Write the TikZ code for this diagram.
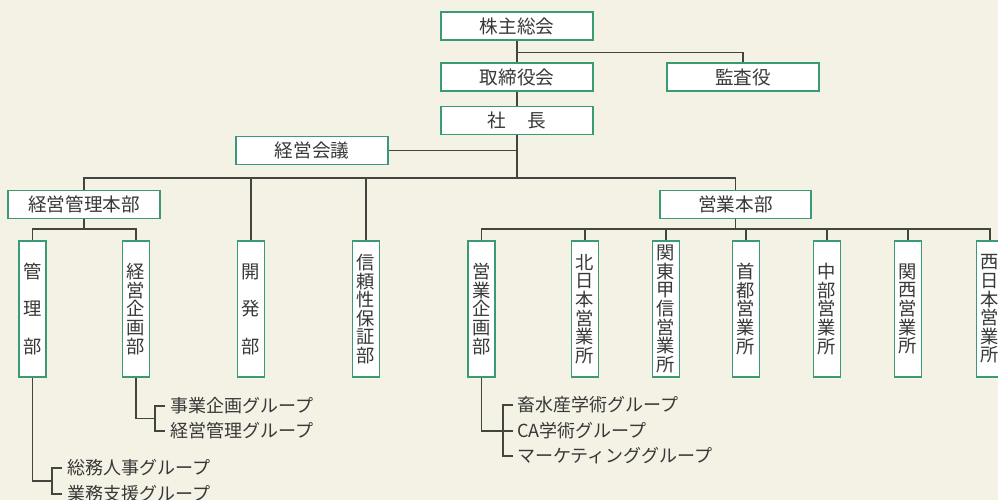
\documentclass[tikz,border=0pt]{standalone}
\usepackage{fontspec}
\setmainfont{Noto Sans CJK JP}
\usetikzlibrary{calc}
\definecolor{bgc}{HTML}{F4F1E5}
\definecolor{boxgreen}{HTML}{3A9A74}
\definecolor{txt}{HTML}{383838}
\definecolor{linec}{HTML}{45453F}
\begin{document}
\begin{tikzpicture}[x=1pt,y=-1pt,
  hbox/.style={draw=boxgreen, line width=1.2pt, fill=white, minimum width=152pt, minimum height=28pt, inner sep=0pt, text=txt, font=\fontsize{18.6}{18.6}\selectfont},
  vbox/.style={draw=boxgreen, line width=1.2pt, fill=white, minimum width=27pt, minimum height=136pt, inner sep=0pt, text=txt, align=center, font=\fontsize{18.3}{18.6}\selectfont},
  vsparse/.style={font=\fontsize{18.3}{37.5}\selectfont},
  conn/.style={draw=linec, line width=1.3pt},
  grp/.style={anchor=west, inner sep=0pt, text=txt, font=\fontsize{18}{18}\selectfont}]
\useasboundingbox (0,0) rectangle (998,500);
\fill[bgc] (0,0) rectangle (998,500);

% top level
\node[hbox] (kabu) at (517,26) {株主総会};
\node[hbox] (tori) at (517,77) {取締役会};
\node[hbox] (kansa) at (743,77) {監査役};
\node[hbox] (shacho) at (517,120.5) {社\hspace{1.15em}長};
\node[hbox] (kaigi) at (312,150.5) {経営会議};
\node[hbox] (kanrihb) at (84,204.5) {経営管理本部};
\node[hbox, minimum width=151pt] (eigyohb) at (735.5,204.5) {営業本部};

% vertical boxes
\node[vbox,vsparse] (kanri) at (32.5,309) {管\\理\\部};
\node[vbox] (kikaku) at (136,309) {経\\営\\企\\画\\部};
\node[vbox,vsparse] (kaihatsu) at (251,309) {開\\発\\部};
\node[vbox] (shinrai) at (366,309) {信\\頼\\性\\保\\証\\部};
\node[vbox] (ekikaku) at (481.5,309) {営\\業\\企\\画\\部};
\node[vbox] (kita) at (585,309) {北\\日\\本\\営\\業\\所};
\node[vbox] (kanto) at (666,309) {関\\東\\甲\\信\\営\\業\\所};
\node[vbox] (shuto) at (746,309) {首\\都\\営\\業\\所};
\node[vbox] (chubu) at (827,309) {中\\部\\営\\業\\所};
\node[vbox] (kansai) at (908,309) {関\\西\\営\\業\\所};
\node[vbox] (nishi) at (990,309) {西\\日\\本\\営\\業\\所};

% groups
\node[grp] (g1) at (67,468) {総務人事グループ};
\node[grp] (g2) at (67,494) {業務支援グループ};
\node[grp] (g3) at (170,406) {事業企画グループ};
\node[grp] (g4) at (170,431) {経営管理グループ};
\node[grp] (g5) at (517,405) {畜水産学術グループ};
\node[grp] (g6) at (517,431) {CA学術グループ};
\node[grp] (g7) at (517,456) {マーケティンググループ};

% connectors top
\draw[conn] (kabu.south) -- (tori.north);
\draw[conn] (kabu.south) -- ++(0,12) -| (kansa.north);
\draw[conn] (tori.south) -- (shacho.north);
\coordinate (bar) at (517,178);
\draw[conn] (shacho.south) -- (bar);
\draw[conn] (kaigi.east) -- (kaigi.east -| bar);
\draw[conn] (kanrihb.north) |- (bar) -| (eigyohb.north);
\draw[conn] (kaihatsu.north) -- (kaihatsu.north |- bar);
\draw[conn] (shinrai.north) -- (shinrai.north |- bar);

% second level
\coordinate (b1) at (84,229);
\draw[conn] (kanrihb.south) -- (b1);
\draw[conn] (kanri.north) |- (b1) -| (kikaku.north);
\coordinate (b2) at (735.5,229);
\draw[conn] (eigyohb.south) -- (b2);
\draw[conn] (ekikaku.north) |- (b2) -| (nishi.north);
\foreach \n in {kita,kanto,shuto,chubu,kansai}
  \draw[conn] (\n.north) -- (\n.north |- b2);

% group brackets
\draw[conn] (kanri.south) |- ($(g1.west)!0.5!(g2.west)+(-15,0)$);
\draw[conn] ([xshift=-5pt]g1.west) -| ([xshift=-15pt]g2.west) -- ([xshift=-5pt]g2.west);
\draw[conn] (kikaku.south) |- ($(g3.west)!0.5!(g4.west)+(-15,0)$);
\draw[conn] ([xshift=-5pt]g3.west) -| ([xshift=-15pt]g4.west) -- ([xshift=-5pt]g4.west);
\draw[conn] (ekikaku.south) |- ([xshift=-4pt]g6.west);
\draw[conn] ([xshift=-4pt]g5.west) -| ([xshift=-14pt]g7.west) -- ([xshift=-4pt]g7.west);
\end{tikzpicture}
\end{document}
